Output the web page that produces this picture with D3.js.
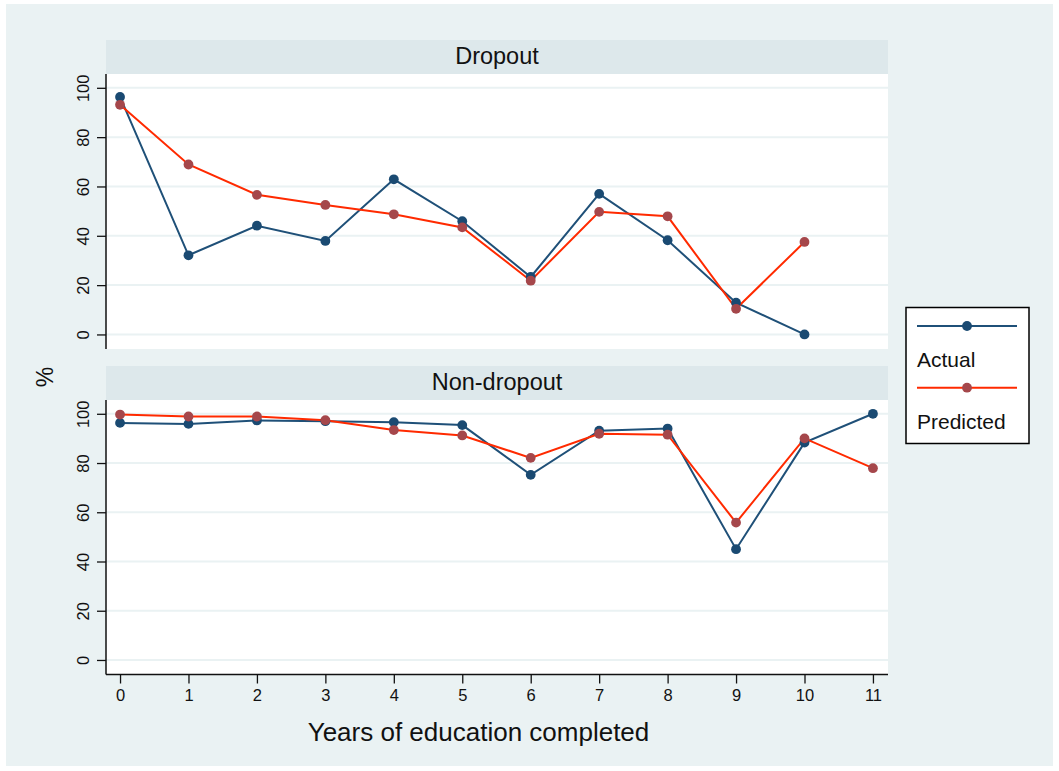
<!DOCTYPE html>
<html>
<head>
<meta charset="utf-8">
<script src="https://cdn.jsdelivr.net/npm/d3@7"></script>
<style>
  html, body { margin: 0; padding: 0; background: #fff; }
  svg { display: block; font-family: "Liberation Sans", Arial, Helvetica, sans-serif; }
</style>
</head>
<body>
<script>
'use strict';

// years of education completed
var years = [0, 1, 2, 3, 4, 5, 6, 7, 8, 9, 10, 11];
var yTicks = [0, 20, 40, 60, 80, 100];

var panels = ['Dropout', 'Non-dropout'];
var seriesNames = ['Actual', 'Predicted'];

// Dropout panel (no value at 11 years)
var dropoutActual    = [96.3, 32.1, 44.1, 37.9, 62.9, 45.9, 23.3, 57.0, 38.2, 12.9, 0.0];
var dropoutPredicted = [93.1, 68.9, 56.6, 52.5, 48.7, 43.4, 21.8, 49.7, 47.9, 10.4, 37.5];

// Non-dropout panel
var nonDropoutActual    = [96.3, 95.9, 97.3, 97.0, 96.6, 95.4, 75.2, 93.1, 94.0, 45.0, 88.3, 100];
var nonDropoutPredicted = [99.7, 98.9, 98.9, 97.4, 93.4, 91.2, 82.1, 91.9, 91.5, 55.8, 90.0, 77.9];

var width = 1059,
    height = 771;

var colors = {
  bg: '#eaf2f3',
  strip: '#dde8eb',
  grid: '#eaf2f3',
  actualLine: '#1f5078',
  actualMark: '#1a4a72',
  predLine: '#ff2a00',
  predMark: '#a5474b'
};

var plotLeft = 106,
    plotRight = 888,
    stripH = 34;

var panelBoxes = [
  { stripTop: 40, top: 74, bottom: 349 },
  { stripTop: 366, top: 400, bottom: 674.5 }
];

var panelData = [
  [dropoutActual, dropoutPredicted],
  [nonDropoutActual, nonDropoutPredicted]
];

var svg = d3.select('body').append('svg')
  .attr('width', width)
  .attr('height', height);

svg.append('rect')
  .attr('x', 6).attr('y', 4)
  .attr('width', 1047).attr('height', 762)
  .attr('fill', colors.bg);

var x = d3.scaleLinear()
  .domain([-0.205, 11.22])
  .range([plotLeft, plotRight]);

panels.forEach(function(name, p) {
  var box = panelBoxes[p];

  var y = d3.scaleLinear()
    .domain([-5.9, 105.6])
    .range([box.bottom, box.top]);

  // strip title
  svg.append('rect')
    .attr('x', plotLeft).attr('y', box.stripTop)
    .attr('width', plotRight - plotLeft).attr('height', stripH)
    .attr('fill', colors.strip);

  svg.append('text')
    .attr('x', (plotLeft + plotRight) / 2)
    .attr('y', box.stripTop + 24)
    .attr('text-anchor', 'middle')
    .attr('font-size', 23.5)
    .attr('fill', '#111')
    .text(name);

  // plot region
  svg.append('rect')
    .attr('x', plotLeft).attr('y', box.top)
    .attr('width', plotRight - plotLeft).attr('height', box.bottom - box.top)
    .attr('fill', '#fff');

  // gridlines
  svg.append('g')
    .selectAll('line')
    .data(yTicks)
    .enter().append('line')
      .attr('x1', plotLeft).attr('x2', plotRight)
      .attr('y1', function(d) { return y(d); })
      .attr('y2', function(d) { return y(d); })
      .attr('stroke', colors.grid)
      .attr('stroke-width', 2);

  // y axis
  var yAxis = svg.append('g')
    .attr('transform', 'translate(' + plotLeft + ',0)')
    .call(d3.axisLeft(y).tickValues(yTicks).tickSize(9).tickSizeOuter(0).tickFormat(d3.format('d')));

  yAxis.select('.domain')
    .attr('d', 'M0,' + box.top + 'V' + box.bottom)
    .attr('stroke', '#111')
    .attr('stroke-width', 1.5);
  yAxis.selectAll('.tick line').attr('stroke', '#111').attr('stroke-width', 1.3);
  yAxis.selectAll('.tick text')
    .attr('x', null).attr('dy', null)
    .attr('transform', 'translate(-17,0) rotate(-90)')
    .attr('text-anchor', 'middle')
    .attr('font-size', 16.5)
    .attr('font-family', '"Liberation Sans", Arial, sans-serif')
    .attr('fill', '#111');

  // x axis only under the last panel
  if (p === panels.length - 1) {
    var xAxis = svg.append('g')
      .attr('transform', 'translate(0,' + box.bottom + ')')
      .call(d3.axisBottom(x).tickValues(years).tickSize(9).tickSizeOuter(0).tickFormat(d3.format('d')));
    xAxis.select('.domain')
      .attr('d', 'M' + plotLeft + ',0H' + plotRight)
      .attr('stroke', '#111')
      .attr('stroke-width', 1.5);
    xAxis.selectAll('.tick line').attr('stroke', '#111').attr('stroke-width', 1.3);
    xAxis.selectAll('.tick text')
      .attr('y', 15)
      .attr('font-size', 16.5)
      .attr('font-family', '"Liberation Sans", Arial, sans-serif')
      .attr('fill', '#111');
  }

  // series
  var line = d3.line()
    .x(function(d, i) { return x(years[i]); })
    .y(function(d) { return y(d); });

  var lineColors = [colors.actualLine, colors.predLine];
  var markColors = [colors.actualMark, colors.predMark];

  panelData[p].forEach(function(values, s) {
    svg.append('path')
      .datum(values)
      .attr('d', line)
      .attr('fill', 'none')
      .attr('stroke', lineColors[s])
      .attr('stroke-width', 2);
  });

  panelData[p].forEach(function(values, s) {
    svg.append('g')
      .selectAll('circle')
      .data(values)
      .enter().append('circle')
        .attr('cx', function(d, i) { return x(years[i]); })
        .attr('cy', function(d) { return y(d); })
        .attr('r', 4.9)
        .attr('fill', markColors[s]);
  });
});

// axis titles
svg.append('text')
  .attr('transform', 'translate(53,377) rotate(-90)')
  .attr('text-anchor', 'middle')
  .attr('font-size', 23)
  .attr('fill', '#111')
  .text('%');

svg.append('text')
  .attr('x', 478.5)
  .attr('y', 741)
  .attr('text-anchor', 'middle')
  .attr('font-size', 26)
  .attr('fill', '#111')
  .text('Years of education completed');

// legend
var legend = svg.append('g');

legend.append('rect')
  .attr('x', 906).attr('y', 307.5)
  .attr('width', 123).attr('height', 136)
  .attr('fill', '#fff')
  .attr('stroke', '#000')
  .attr('stroke-width', 1.5);

var legendLineY = [326, 387.7],
    legendTextY = [367, 428.5],
    legendLine = [colors.actualLine, colors.predLine],
    legendMark = [colors.actualMark, colors.predMark];

seriesNames.forEach(function(name, i) {
  legend.append('line')
    .attr('x1', 917).attr('x2', 1017)
    .attr('y1', legendLineY[i]).attr('y2', legendLineY[i])
    .attr('stroke', legendLine[i])
    .attr('stroke-width', 2);
  legend.append('circle')
    .attr('cx', 967).attr('cy', legendLineY[i])
    .attr('r', 4.9)
    .attr('fill', legendMark[i]);
  legend.append('text')
    .attr('x', 917).attr('y', legendTextY[i])
    .attr('font-size', 21)
    .attr('fill', '#111')
    .text(name);
});
</script>
</body>
</html>
